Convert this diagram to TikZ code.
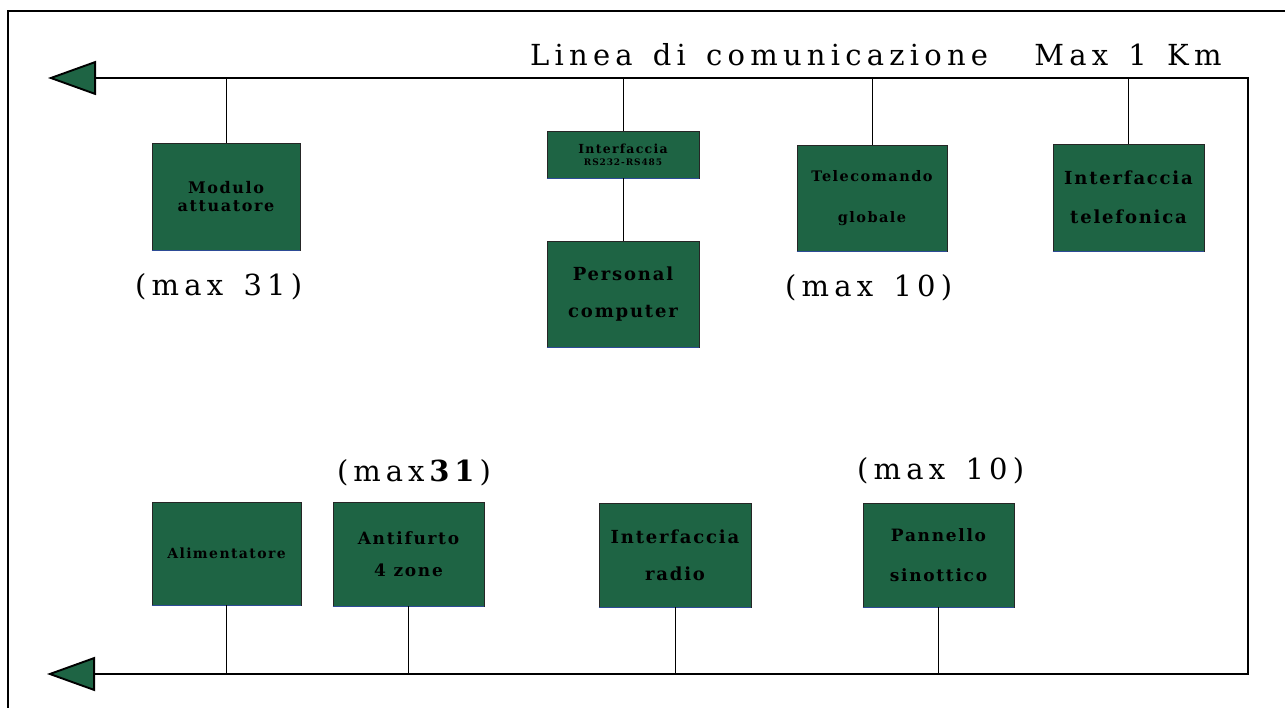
\documentclass[tikz,border=0pt]{standalone}
\usepackage{fontspec}
\usetikzlibrary{arrows.meta}
\definecolor{boxgreen}{RGB}{30,100,68}
\definecolor{edgeblue}{RGB}{45,75,150}
\newfontfamily\lblfont{DejaVu Serif}[LetterSpace=18,WordSpace=1.4]
\newfontfamily\lblnarrow{DejaVu Serif}[LetterSpace=17]
\newfontfamily\boxfont{DejaVu Serif}[LetterSpace=10]
\begin{document}
\begin{tikzpicture}[x=1pt,y=-1pt,
  unit/.style={draw=black!85, line width=0.8pt, fill=boxgreen, inner sep=0pt,
    align=center, text=black,
    append after command={\pgfextra{\let\lastunit\tikzlastnode}
      (\lastunit.south west) edge[draw=edgeblue, line width=1pt] (\lastunit.south east)}},
  bus/.style={line width=1.9pt},
  tap/.style={line width=0.9pt},
  lbl/.style={anchor=base west, inner sep=0pt, font=\lblfont\fontsize{29}{34}\selectfont}
]
\useasboundingbox (0,0) rectangle (1285,708);
\clip (0,0) rectangle (1285,708);
% outer frame
\draw[line width=1.6pt] (8,11) rectangle (1310,730);

% bus corners
\coordinate (tl) at (48,78);
\coordinate (tr) at (1248,78);
\coordinate (br) at (1248,674);
\coordinate (bl) at (47,674);
\draw[bus, {Triangle[length=48pt,width=34pt,fill=boxgreen]}-{Triangle[length=48pt,width=34pt,fill=boxgreen]}]
  (bl) -- (br) -- (tr) -- (tl);

\node[lbl] (title) at (530,66) {Linea di comunicazione\hspace{1.6em}Max 1 Km};

% top units
\node[unit, minimum width=148pt, minimum height=107pt,
  font=\boxfont\bfseries\fontsize{16}{19}\selectfont] (mod) at (226,196.5) {Modulo\\[-1pt]attuatore};
\node[unit, minimum width=152pt, minimum height=47pt,
  font=\boxfont\bfseries\fontsize{12.5}{14}\selectfont] (rs) at (623,154.5) {Interfaccia\\[-2pt]{\fontsize{9}{10}\selectfont RS232-RS485}};
\node[unit, minimum width=152pt, minimum height=106pt,
  font=\boxfont\bfseries\fontsize{18}{21}\selectfont] (pc) at (623,294) {Personal\\[16pt]computer};
\node[unit, minimum width=150pt, minimum height=106pt,
  font=\boxfont\bfseries\fontsize{14.5}{17}\selectfont] (tel) at (872,198) {Telecomando\\[24pt]globale};
\node[unit, minimum width=151pt, minimum height=107pt,
  font=\boxfont\bfseries\fontsize{18}{21}\selectfont] (itel) at (1128.5,197.5) {Interfaccia\\[18pt]telefonica};

% bottom units
\node[unit, minimum width=149pt, minimum height=103pt,
  font=\boxfont\bfseries\fontsize{14}{17}\selectfont] (ali) at (226.5,553.5) {Alimentatore};
\node[unit, minimum width=151pt, minimum height=104pt,
  font=\boxfont\bfseries\fontsize{17}{20}\selectfont] (anti) at (408.5,554) {Antifurto\\[12pt]4 zone};
\node[unit, minimum width=152pt, minimum height=104pt,
  font=\boxfont\bfseries\fontsize{18}{21}\selectfont] (radio) at (675,555) {Interfaccia\\[16pt]radio};
\node[unit, minimum width=151pt, minimum height=104pt,
  font=\boxfont\bfseries\fontsize{17}{20}\selectfont] (pan) at (938.5,555) {Pannello\\[20pt]sinottico};

% connectors
\draw[tap] (mod.north) -- (mod.north |- tl);
\draw[tap] (rs.north) -- (rs.north |- tl);
\draw[tap] (rs.south) -- (pc.north);
\draw[tap] (tel.north) -- (tel.north |- tl);
\draw[tap] (itel.north) -- (itel.north |- tl);
\draw[tap] (ali.south) -- (ali.south |- bl);
\draw[tap] (anti.south) -- (anti.south |- bl);
\draw[tap] (radio.south) -- (radio.south |- bl);
\draw[tap] (pan.south) -- (pan.south |- bl);

% count labels
\node[lbl] (c1) at (135,296) {(max 31)};
\node[lbl] (c2) at (785,297) {(max 10)};
\node[lbl, font=\lblnarrow\fontsize{29}{34}\selectfont] (c3) at (337,481) {(max\textbf{31})};
\node[lbl] (c4) at (857,479) {(max 10)};
\end{tikzpicture}
\end{document}
